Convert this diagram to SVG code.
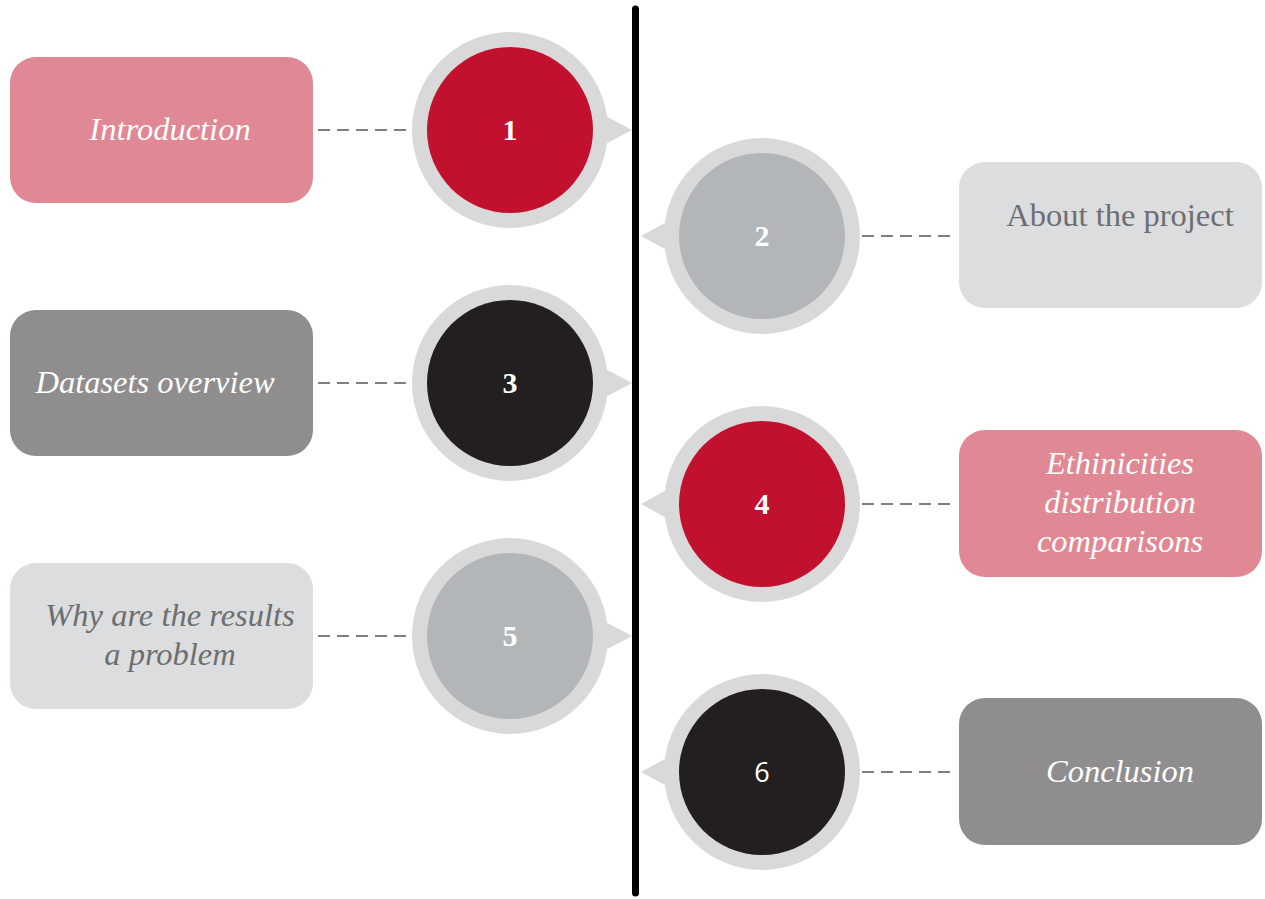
<svg xmlns="http://www.w3.org/2000/svg" width="1265" height="899" viewBox="0 0 1265 899">
<style>
.ring{fill:#d9d9d9}
.box{stroke:none}
.lbl{font-family:"Liberation Serif",serif;font-style:italic;font-size:32.5px;text-anchor:middle}
.num{font-family:"Liberation Serif",serif;font-weight:bold;font-size:30px;fill:#fff;text-anchor:middle}
.dash{stroke:#7f7f7f;stroke-width:2;stroke-dasharray:12 7;fill:none}
</style>
<rect width="1265" height="899" fill="#fff"/>
<g id="connectors">
<line x1="635.5" y1="9" x2="635.5" y2="893" stroke="#000" stroke-width="7" stroke-linecap="round"/>
<line class="dash" x1="318" y1="130" x2="414" y2="130"/>
<line class="dash" x1="318" y1="383" x2="414" y2="383"/>
<line class="dash" x1="318" y1="636" x2="414" y2="636"/>
<line class="dash" x1="862" y1="236" x2="956" y2="236"/>
<line class="dash" x1="862" y1="504" x2="956" y2="504"/>
<line class="dash" x1="862" y1="772" x2="956" y2="772"/>
</g>
<g id="box-intro"><rect class="box" x="10" y="57" width="303" height="146" rx="26" fill="#e08893"/><text class="lbl" x="170" y="140" fill="#fff">Introduction</text></g>
<g id="box-datasets"><rect class="box" x="10" y="310" width="303" height="146" rx="26" fill="#8f8d8e"/><text class="lbl" x="155" y="393" fill="#fff">Datasets overview</text></g>
<g id="box-why"><rect class="box" x="10" y="563" width="303" height="146" rx="26" fill="#dcdddf"/><text class="lbl" x="170" y="626" fill="#6d6e70">Why are the results</text><text class="lbl" x="170" y="665" fill="#6d6e70">a problem</text></g>
<g id="box-about"><rect class="box" x="959" y="162" width="303" height="146" rx="26" fill="#dcdddf"/><text x="1120" y="226" font-family="Liberation Serif,serif" font-size="32.5" fill="#6d6e70" text-anchor="middle">About the project</text></g>
<g id="box-ethnic"><rect class="box" x="959" y="430" width="303" height="147" rx="26" fill="#e08893"/><text class="lbl" x="1120" y="474" fill="#fff">Ethinicities</text><text class="lbl" x="1120" y="513" fill="#fff">distribution</text><text class="lbl" x="1120" y="552" fill="#fff">comparisons</text></g>
<g id="box-conclusion"><rect class="box" x="959" y="698" width="303" height="147" rx="26" fill="#8f8d8e"/><text class="lbl" x="1120" y="782" fill="#fff">Conclusion</text></g>
<g id="node-1"><circle class="ring" cx="510" cy="130" r="98"/><polygon class="ring" points="600,113 632,130 600,147"/><circle cx="510" cy="130" r="83" fill="#c1112e"/><text class="num" x="510" y="140">1</text></g>
<g id="node-3"><circle class="ring" cx="510" cy="383" r="98"/><polygon class="ring" points="600,366 632,383 600,400"/><circle cx="510" cy="383" r="83" fill="#231f20"/><text class="num" x="510" y="393">3</text></g>
<g id="node-5"><circle class="ring" cx="510" cy="636" r="98"/><polygon class="ring" points="600,619 632,636 600,653"/><circle cx="510" cy="636" r="83" fill="#b2b6b9"/><text class="num" x="510" y="646">5</text></g>
<g id="node-2"><circle class="ring" cx="762" cy="236" r="98"/><polygon class="ring" points="672,219 641,236 672,253"/><circle cx="762" cy="236" r="83" fill="#b2b6b9"/><text class="num" x="762" y="246">2</text></g>
<g id="node-4"><circle class="ring" cx="762" cy="504" r="98"/><polygon class="ring" points="672,487 641,504 672,521"/><circle cx="762" cy="504" r="83" fill="#c1112e"/><text class="num" x="762" y="514">4</text></g>
<g id="node-6"><circle class="ring" cx="762" cy="772" r="98"/><polygon class="ring" points="672,755 641,772 672,789"/><circle cx="762" cy="772" r="83" fill="#231f20"/><text x="762" y="782" font-family="Open Sans,sans-serif" font-size="27" fill="#fff" text-anchor="middle">6</text></g>
</svg>
